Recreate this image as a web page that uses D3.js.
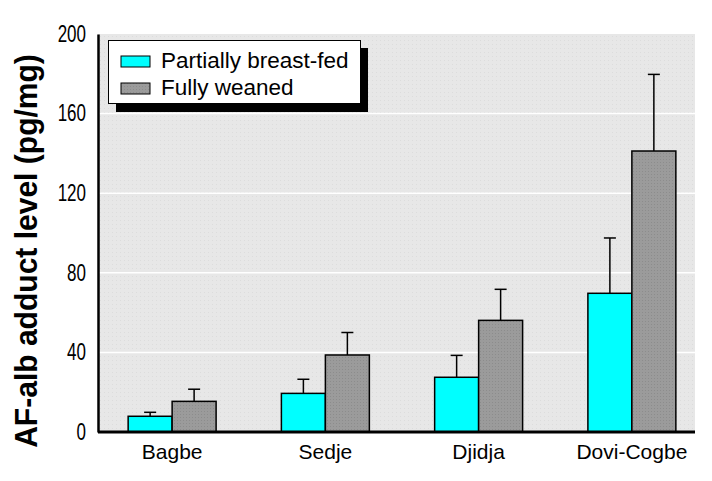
<!DOCTYPE html>
<html>
<head>
<meta charset="utf-8">
<script src="https://cdn.jsdelivr.net/npm/d3@7"></script>
<style>
  body { margin: 0; background: #fff; }
  svg { display: block; }
  text { font-family: "Liberation Sans", Arial, sans-serif; }
</style>
</head>
<body>
<div id="chart"></div>
<script>
const width = 712;
const height = 481;

// data
const villages = ["Bagbe", "Sedje", "Djidja", "Dovi-Cogbe"];
const groups = ["Partially breast-fed", "Fully weaned"];
const partial = [7.9, 19.4, 27.5, 69.7];
const partialErr = [2.0, 7.1, 11.0, 27.8];
const weaned = [15.4, 38.7, 56.1, 141.2];
const weanedErr = [6.1, 11.3, 15.6, 38.5];
const yTicks = [0, 40, 80, 120, 160, 200];

const colors = { "Partially breast-fed": "#00ffff", "Fully weaned": "#999999" };

const rows = [];
villages.forEach((v, i) => {
  rows.push({ village: v, group: groups[0], value: partial[i], err: partialErr[i] });
  rows.push({ village: v, group: groups[1], value: weaned[i], err: weanedErr[i] });
});

const plot = { left: 98, right: 695, top: 34, bottom: 432 };

const svg = d3.select("#chart").append("svg")
  .attr("width", width)
  .attr("height", height);

const defs = svg.append("defs");
const dots = defs.append("pattern")
  .attr("id", "bgdots").attr("width", 4).attr("height", 4)
  .attr("patternUnits", "userSpaceOnUse");
dots.append("rect").attr("width", 4).attr("height", 4).attr("fill", "#e7e7e7");
dots.append("rect").attr("width", 1).attr("height", 1).attr("fill", "#dcdcdc");

const grayDots = defs.append("pattern")
  .attr("id", "graydots").attr("width", 3).attr("height", 3)
  .attr("patternUnits", "userSpaceOnUse");
grayDots.append("rect").attr("width", 3).attr("height", 3).attr("fill", "#9b9b9b");
grayDots.append("rect").attr("width", 1).attr("height", 1).attr("fill", "#8c8c8c");

const y = d3.scaleLinear().domain([0, 200]).range([plot.bottom, plot.top]);

const x = d3.scaleBand()
  .domain(villages)
  .range([95.5, 708.5])
  .paddingInner(0.426)
  .paddingOuter(0.213);

const xs = d3.scaleBand()
  .domain(groups)
  .range([0, x.bandwidth()]);

// plot background
svg.append("rect")
  .attr("x", plot.left).attr("y", plot.top)
  .attr("width", plot.right - plot.left)
  .attr("height", plot.bottom - plot.top)
  .attr("fill", "url(#bgdots)");

// white gridlines
svg.append("g").selectAll("line")
  .data(yTicks.filter(d => d > 0 && d < 200))
  .join("line")
  .attr("x1", plot.left).attr("x2", plot.right)
  .attr("y1", d => y(d)).attr("y2", d => y(d))
  .attr("stroke", "#fff").attr("stroke-width", 1.5);

// bars
svg.append("g").selectAll("rect")
  .data(rows)
  .join("rect")
  .attr("x", d => x(d.village) + xs(d.group))
  .attr("y", d => y(d.value))
  .attr("width", xs.bandwidth())
  .attr("height", d => y(0) - y(d.value))
  .attr("fill", d => d.group === groups[1] ? "url(#graydots)" : colors[d.group])
  .attr("stroke", "#000")
  .attr("stroke-width", 1.5);

// error bars (upper only)
const cx = d => x(d.village) + xs(d.group) + xs.bandwidth() / 2;
const eb = svg.append("g").attr("stroke", "#000").attr("stroke-width", 1.5);
eb.selectAll("line.v")
  .data(rows)
  .join("line")
  .attr("class", "v")
  .attr("x1", cx).attr("x2", cx)
  .attr("y1", d => y(d.value))
  .attr("y2", d => y(d.value + d.err));
eb.selectAll("line.cap")
  .data(rows)
  .join("line")
  .attr("class", "cap")
  .attr("x1", d => cx(d) - 6)
  .attr("x2", d => cx(d) + 6)
  .attr("y1", d => y(d.value + d.err))
  .attr("y2", d => y(d.value + d.err));

// y axis, labels squeezed sideways like the original narrow font
const squeeze = 0.74;
const yAxis = svg.append("g")
  .attr("transform", `translate(${plot.left},0)`)
  .call(d3.axisLeft(y).tickValues(yTicks).tickSize(0).tickPadding(12));
yAxis.attr("font-family", null).attr("font-size", null);
yAxis.select(".domain").attr("stroke", "#000").attr("stroke-width", 2.5);
yAxis.selectAll("text")
  .style("font-size", "23px")
  .attr("fill", "#000")
  .attr("x", -12 / squeeze)
  .attr("transform", `scale(${squeeze},1)`);

// x axis
const xAxis = svg.append("g")
  .attr("transform", `translate(0,${plot.bottom})`)
  .call(d3.axisBottom(x).tickSize(0).tickPadding(12));
xAxis.attr("font-family", null).attr("font-size", null);
xAxis.select(".domain")
  .attr("d", `M${plot.left},0H${plot.right}`)
  .attr("stroke", "#000").attr("stroke-width", 3);
xAxis.selectAll("text")
  .style("font-size", "21px")
  .attr("fill", "#000");

// y axis title
const title = svg.append("text")
  .attr("text-anchor", "middle")
  .style("font-size", "32px")
  .style("font-weight", "bold")
  .text("AF-alb adduct level (pg/mg)");
const tw = title.node().getComputedTextLength();
title.attr("transform", `translate(37,251) rotate(-90) scale(${394 / tw},1)`);

// legend
const lg = svg.append("g");
lg.append("rect")
  .attr("x", 116).attr("y", 48).attr("width", 252).attr("height", 64)
  .attr("fill", "#000");
lg.append("rect")
  .attr("x", 108.5).attr("y", 40.5).attr("width", 252).attr("height", 63)
  .attr("fill", "#fff").attr("stroke", "#000").attr("stroke-width", 1);

const items = lg.selectAll("g.item")
  .data(groups)
  .join("g")
  .attr("class", "item")
  .attr("transform", (d, i) => `translate(121,${56 + i * 27})`);
items.append("rect")
  .attr("width", 29).attr("height", 11)
  .attr("fill", d => d === groups[1] ? "url(#graydots)" : colors[d])
  .attr("stroke", "#000").attr("stroke-width", 1);
items.append("text")
  .attr("x", 40).attr("y", 12)
  .style("font-size", "22.5px")
  .text(d => d);
</script>
</body>
</html>
